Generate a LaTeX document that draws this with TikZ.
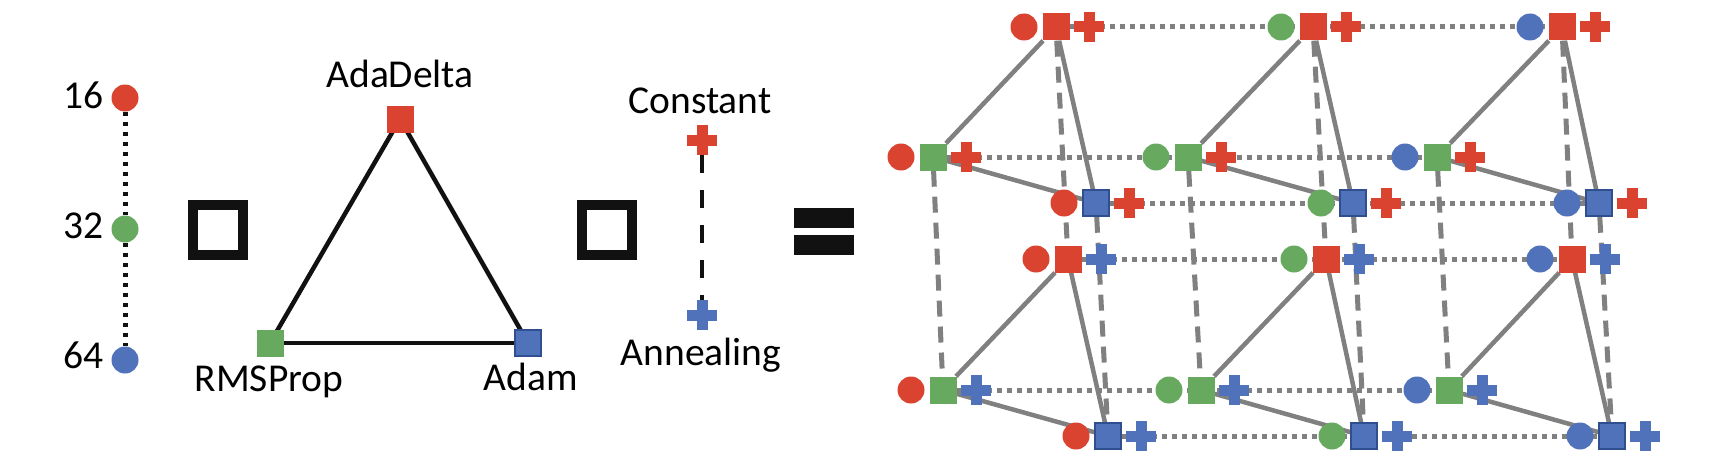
\documentclass[tikz,border=0pt]{standalone}
\usepackage{fontspec}
\setmainfont{Carlito}
\usetikzlibrary{backgrounds}
\definecolor{cred}{RGB}{217,67,48}
\definecolor{cgreen}{RGB}{103,170,95}
\definecolor{cblue}{RGB}{80,114,187}
\definecolor{cblueb}{RGB}{47,79,143}
\definecolor{cgray}{RGB}{128,128,128}
\definecolor{cblack}{RGB}{17,17,17}
\tikzset{
  dotc/.style={circle, fill=#1, minimum size=27pt, inner sep=0pt},
  sqr/.style={rectangle, fill=#1, minimum size=27pt, inner sep=0pt},
  sqrb/.style={rectangle, fill=cblue, draw=cblueb, line width=1.5pt, minimum size=26pt, inner sep=0pt},
  plusn/.style={rectangle, minimum size=30pt, inner sep=0pt,
    path picture={
      \fill[#1] ([xshift=-15pt,yshift=-5.5pt]path picture bounding box.center) rectangle ([xshift=15pt,yshift=5.5pt]path picture bounding box.center);
      \fill[#1] ([xshift=-5.5pt,yshift=-15pt]path picture bounding box.center) rectangle ([xshift=5.5pt,yshift=15pt]path picture bounding box.center);
    }},
  lbl/.style={font=\fontsize{39.5}{47}\selectfont, inner sep=0pt},
  opbox/.style={draw=cblack, line width=10pt, minimum size=50pt, inner sep=0pt},
  eqbar/.style={fill=cblack, minimum width=60pt, minimum height=20pt, inner sep=0pt},
  bkdot/.style={draw=cblack, line width=5pt, dash pattern=on 4.5pt off 5.5pt},
  bkdash/.style={draw=cblack, line width=4.5pt, dash pattern=on 18pt off 17pt},
  bkline/.style={draw=cblack, line width=4.5pt},
  gdot/.style={draw=cgray, line width=5pt, dash pattern=on 5pt off 5pt},
  gdash/.style={draw=cgray, line width=5pt, dash pattern=on 16pt off 10pt},
  gline/.style={draw=cgray, line width=4.5pt},
}
\newcommand\trio[6]{%
  \node[dotc=#4] (c-#1) at (#2-32,#3) {};
  \node[#5] (s-#1) at (#2,#3) {};
  \node[plusn=#6] (p-#1) at (#2+33,#3) {};
}
\begin{document}
\begin{tikzpicture}[x=1pt,y=-1pt]
\useasboundingbox (0,0) rectangle (1718,460);
% ---- batch size
\node[dotc=cred] (b16) at (125,98) {};
\node[dotc=cgreen] (b32) at (125,229) {};
\node[dotc=cblue] (b64) at (125,360) {};
\node[lbl, anchor=base east] (l16) at (104,108) {16};
\node[lbl, anchor=base east] (l32) at (104,238) {32};
\node[lbl, anchor=base east] (l64) at (104,368) {64};
\draw[bkdot] (b16) -- (b32);
\draw[bkdot] (b32) -- (b64);
% ---- product 1
\node[opbox] (x1) at (218,230) {};
% ---- optimizers
\node[sqr=cred] (ada) at (400,119) {};
\node[sqr=cgreen] (rms) at (270,343) {};
\node[sqrb] (adam) at (528,343) {};
\begin{scope}[on background layer]
\draw[bkline] (ada.center) -- (rms.center);
\draw[bkline] (ada.center) -- (adam.center);
\draw[bkline] (rms.center) -- (adam.center);
\end{scope}
\node[lbl, anchor=base] (lada) at (400,87) {AdaDelta};
\node[lbl, anchor=base] (lrms) at (269,391) {RMSProp};
\node[lbl, anchor=base] (ladam) at (531,390) {Adam};
% ---- product 2
\node[opbox] (x2) at (607,230) {};
% ---- schedule
\node[plusn=cred] (cpl) at (702,140) {};
\node[plusn=cblue] (apl) at (702,315) {};
\draw[bkdash] (cpl) -- (apl);
\node[lbl, anchor=base] (lcon) at (700,113) {Constant};
\node[lbl, anchor=base] (lann) at (701,365) {Annealing};
% ---- equals
\node[eqbar] (eq1) at (824,218) {};
\node[eqbar] (eq2) at (824,245) {};
% ---- grid, top layer (constant)
\trio{t1A}{1056}{27}{cred}{sqr=cred}{cred}
\trio{t1R}{933}{157}{cred}{sqr=cgreen}{cred}
\trio{t1M}{1096}{203}{cred}{sqrb}{cred}
\trio{t2A}{1313}{27}{cgreen}{sqr=cred}{cred}
\trio{t2R}{1188}{157}{cgreen}{sqr=cgreen}{cred}
\trio{t2M}{1353}{203}{cgreen}{sqrb}{cred}
\trio{t3A}{1562}{27}{cblue}{sqr=cred}{cred}
\trio{t3R}{1437}{157}{cblue}{sqr=cgreen}{cred}
\trio{t3M}{1599}{203}{cblue}{sqrb}{cred}
% ---- grid, bottom layer (annealing)
\trio{u1A}{1068}{259}{cred}{sqr=cred}{cblue}
\trio{u1R}{943}{390}{cred}{sqr=cgreen}{cblue}
\trio{u1M}{1108}{436}{cred}{sqrb}{cblue}
\trio{u2A}{1326}{259}{cgreen}{sqr=cred}{cblue}
\trio{u2R}{1201}{390}{cgreen}{sqr=cgreen}{cblue}
\trio{u2M}{1364}{436}{cgreen}{sqrb}{cblue}
\trio{u3A}{1572}{259}{cblue}{sqr=cred}{cblue}
\trio{u3R}{1449}{390}{cblue}{sqr=cgreen}{cblue}
\trio{u3M}{1612}{436}{cblue}{sqrb}{cblue}
\begin{scope}[on background layer]
\foreach \cc in {1,2,3} {
  \foreach \opt in {A,R,M} {
    \draw[gdash] (s-t\cc\opt) -- (s-u\cc\opt);
  }
}
\foreach \lay in {t,u} {
  \foreach \opt in {A,R,M} {
    \draw[gdot] (s-\lay1\opt) -- (s-\lay3\opt);
  }
  \foreach \cc in {1,2,3} {
    \draw[gline] (s-\lay\cc A) -- (s-\lay\cc R);
    \draw[gline] (s-\lay\cc A) -- (s-\lay\cc M);
    \draw[gline] (s-\lay\cc R) -- (s-\lay\cc M);
  }
}
\end{scope}
\end{tikzpicture}
\end{document}
